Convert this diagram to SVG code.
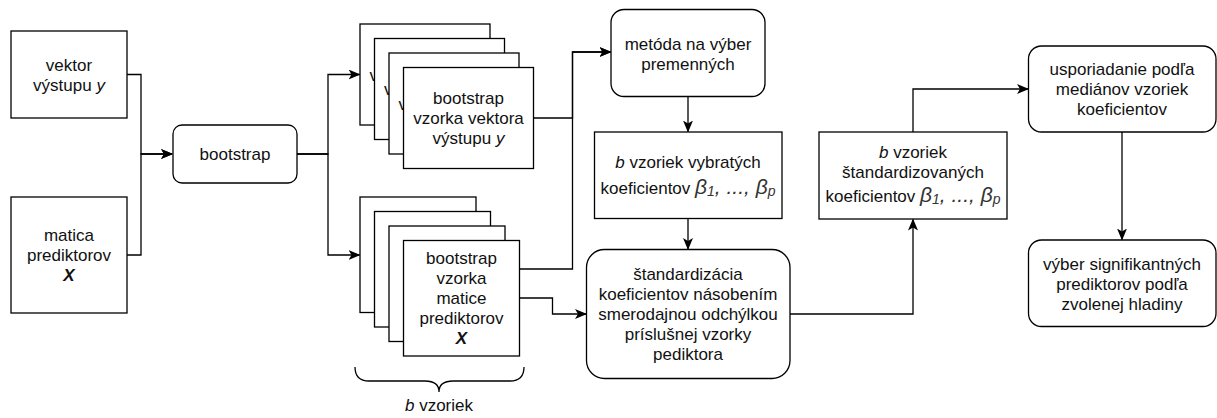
<svg xmlns="http://www.w3.org/2000/svg" width="1217" height="418" viewBox="0 0 1217 418">
<style>
.n{fill:#fff;stroke:#000;stroke-width:1.3}
.t{font-family:"Liberation Sans",Arial,Helvetica,sans-serif;font-size:17px;fill:#111;text-anchor:middle}
.s{text-anchor:start}
.c{fill:none;stroke:#000;stroke-width:1.3}
.i{font-style:italic}
.bi{font-style:italic;font-weight:bold}
.g{font-style:italic;fill:#333}
</style>
<defs>
<marker id="a" viewBox="0 0 12 10" refX="11" refY="5" markerWidth="12" markerHeight="10" markerUnits="userSpaceOnUse" orient="auto">
<path d="M0,0 L12,5 L0,10 L3,5 Z" fill="#000"/>
</marker>
</defs>
<rect width="1217" height="418" fill="#fff"/>

<g id="connectors">
<path class="c" d="M127,74.5 H141 V154 H172" marker-end="url(#a)"/>
<path class="c" d="M127,255 H141 V154 H172" marker-end="url(#a)"/>
<path class="c" d="M297,154 H328 V74.5 H359.5" marker-end="url(#a)"/>
<path class="c" d="M297,154 H328 V255 H359.5" marker-end="url(#a)"/>
<path class="c" d="M533.5,118 H572.5 V52 H610.5" marker-end="url(#a)"/>
<path class="c" d="M519.5,269 H572.5 V52 H610.5" marker-end="url(#a)"/>
<path class="c" d="M519.5,298 H552.5 V314 H586" marker-end="url(#a)"/>
<path class="c" d="M688,97 V131.5" marker-end="url(#a)"/>
<path class="c" d="M688,218.5 V249" marker-end="url(#a)"/>
<path class="c" d="M790,314 H913 V219.5" marker-end="url(#a)"/>
<path class="c" d="M913,132 V89 H1028" marker-end="url(#a)"/>
<path class="c" d="M1122,132 V239.5" marker-end="url(#a)"/>
</g>

<g id="vektor">
<rect class="n" x="11" y="31" width="116" height="87"/>
<text class="t" x="69" y="71">vektor</text>
<text class="t" x="69" y="91">výstupu <tspan class="i">y</tspan></text>
</g>

<g id="matica">
<rect class="n" x="11" y="197" width="116" height="116"/>
<text class="t" x="69" y="241">matica</text>
<text class="t" x="69" y="261">prediktorov</text>
<text class="t" x="69" y="281"><tspan class="bi">X</tspan></text>
</g>

<g id="bootstrap">
<rect class="n" x="173" y="125" width="124" height="58" rx="9"/>
<text class="t" x="235" y="160">bootstrap</text>
</g>

<g id="stack-y">
<rect class="n" x="360" y="24" width="130" height="101"/>
<text class="t s" x="369.5" y="80.5">v</text>
<rect class="n" x="374.5" y="38.5" width="130" height="101"/>
<text class="t s" x="384" y="95">v</text>
<rect class="n" x="389" y="53" width="130" height="101"/>
<text class="t s" x="398.5" y="109.5">v</text>
<rect class="n" x="403.5" y="67.5" width="130" height="101"/>
<text class="t" x="468.5" y="103.5">bootstrap</text>
<text class="t" x="468.5" y="123.5">vzorka vektora</text>
<text class="t" x="468.5" y="143.5">výstupu <tspan class="i">y</tspan></text>
</g>

<g id="stack-x">
<rect class="n" x="360" y="197" width="116" height="115.5"/>
<rect class="n" x="374.5" y="211.5" width="116" height="115.5"/>
<rect class="n" x="389" y="226" width="116" height="115.5"/>
<rect class="n" x="403.5" y="240.5" width="116" height="115.5"/>
<text class="t" x="461.5" y="264">bootstrap</text>
<text class="t" x="461.5" y="284">vzorka</text>
<text class="t" x="461.5" y="304">matice</text>
<text class="t" x="461.5" y="324">prediktorov</text>
<text class="t" x="461.5" y="344"><tspan class="bi">X</tspan></text>
</g>

<g id="brace">
<path class="c" d="M355,367 Q355,381 369,381 L425,381 Q439,381 439,392 Q439,381 453,381 L510,381 Q524,381 524,367"/>
<text class="t" x="439" y="411"><tspan class="i">b</tspan> vzoriek</text>
</g>

<g id="metoda">
<rect class="n" x="611" y="9.5" width="154" height="87" rx="13"/>
<text class="t" x="688" y="50">metóda na výber</text>
<text class="t" x="688" y="70">premenných</text>
</g>

<g id="vybrate">
<rect class="n" x="594.5" y="132" width="187.5" height="86.5"/>
<text class="t" x="688" y="168"><tspan class="i">b</tspan> vzoriek vybratých</text>
<text class="t" x="688" y="193.5">koeficientov <tspan class="g" font-size="21">β</tspan><tspan class="g" font-size="14" dy="2">1</tspan><tspan class="g" font-size="21" dy="-2">, ..., β</tspan><tspan class="g" font-size="14" dy="2">p</tspan></text>
</g>

<g id="standardizacia">
<rect class="n" x="586.5" y="249.5" width="203.5" height="129" rx="18"/>
<text class="t" x="688" y="280">štandardizácia</text>
<text class="t" x="688" y="300">koeficientov násobením</text>
<text class="t" x="688" y="320">smerodajnou odchýlkou</text>
<text class="t" x="688" y="340">príslušnej vzorky</text>
<text class="t" x="688" y="360">pediktora</text>
</g>

<g id="standardizovane">
<rect class="n" x="819" y="132" width="188" height="87"/>
<text class="t" x="913" y="158"><tspan class="i">b</tspan> vzoriek</text>
<text class="t" x="913" y="178">štandardizovaných</text>
<text class="t" x="913" y="202">koeficientov <tspan class="g" font-size="21">β</tspan><tspan class="g" font-size="14" dy="2">1</tspan><tspan class="g" font-size="21" dy="-2">, ..., β</tspan><tspan class="g" font-size="14" dy="2">p</tspan></text>
</g>

<g id="usporiadanie">
<rect class="n" x="1028.5" y="46" width="187.5" height="86" rx="13"/>
<text class="t" x="1122" y="75">usporiadanie podľa</text>
<text class="t" x="1122" y="95">mediánov vzoriek</text>
<text class="t" x="1122" y="115">koeficientov</text>
</g>

<g id="vyber">
<rect class="n" x="1028.5" y="240" width="187.5" height="86.5" rx="13"/>
<text class="t" x="1122" y="270">výber signifikantných</text>
<text class="t" x="1122" y="290">prediktorov podľa</text>
<text class="t" x="1122" y="310">zvolenej hladiny</text>
</g>
</svg>
